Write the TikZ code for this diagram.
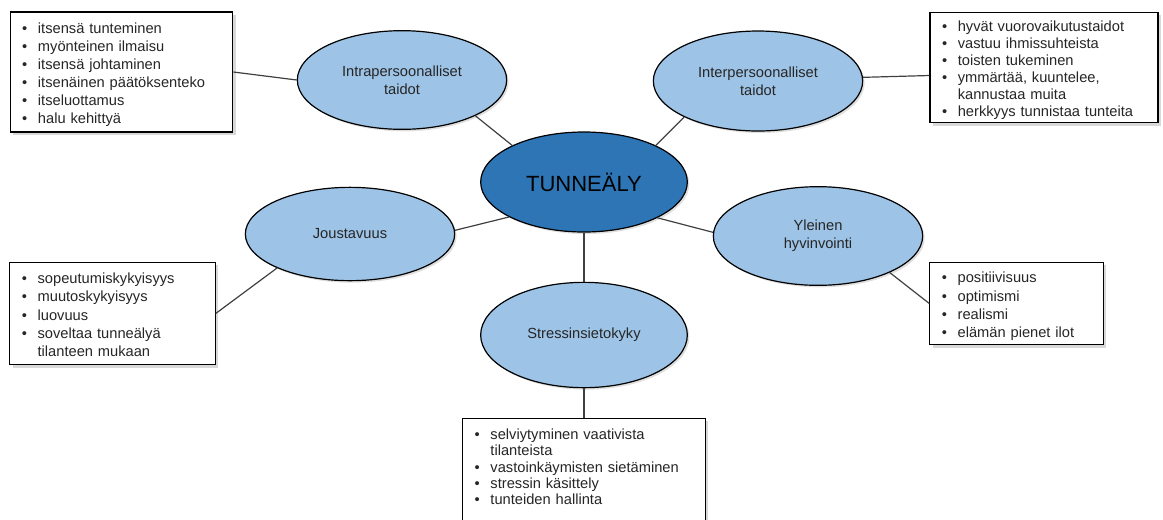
\documentclass[tikz,border=0pt]{standalone}
\usepackage{fontspec}
\setmainfont{Liberation Sans}
\usetikzlibrary{shapes.geometric,shadows}
\definecolor{lightblue}{HTML}{9DC3E6}
\definecolor{midblue}{HTML}{2E75B6}
\definecolor{linegray}{HTML}{404040}
\newcommand{\itemlist}[1]{\raisebox{-2.2pt}[\height][\depth]{\begin{tabular}{@{}l@{\hspace{8pt}}l@{}}#1\end{tabular}}}

\begin{document}
\begin{tikzpicture}[x=0.75pt, y=-0.75pt,
  topic/.style={ellipse, draw=black, line width=0.9pt, fill=lightblue, inner sep=0pt,
    minimum width=157pt, minimum height=74pt, align=center, text=black!85,
    font=\fontsize{11}{13.5}\selectfont,
    drop shadow={opacity=0.25, shadow xshift=1.5pt, shadow yshift=-1.5pt}},
  listbox/.style={rectangle, draw=black, line width=0.8pt, fill=white, inner xsep=9pt,
    inner ysep=0pt, text=black!85, font=\fontsize{11}{13.6}\selectfont,
    drop shadow={opacity=0.3, shadow xshift=2pt, shadow yshift=-2pt}},
  link/.style={draw=linegray, line width=0.9pt}]
  \useasboundingbox (0,0) rectangle (1163,519);
  \clip (0,0) rectangle (1163,519);

  \node[topic, fill=midblue, minimum width=155pt, minimum height=75pt, text=black,
    font=\fontsize{16.5}{19}\selectfont] (tunne) at (584,182) {TUNNEÄLY};
  \node[topic] (intra) at (402,80) {Intrapersoonalliset\\taidot};
  \node[topic, minimum height=75pt] (inter) at (758,81) {Interpersoonalliset\\taidot};
  \node[topic, minimum height=70pt] (jous) at (350,234) {Joustavuus};
  \node[topic] (yle) at (818,236) {Yleinen\\hyvinvointi};
  \node[topic, minimum width=155pt, minimum height=79pt] (stress) at (584,335) {Stressinsietokyky};

  \node[listbox, text width=149pt, minimum height=90pt] (intraBox) at (121.5,72) {\itemlist{
    \textbullet & itsensä tunteminen\\
    \textbullet & myönteinen ilmaisu\\
    \textbullet & itsensä johtaminen\\
    \textbullet & itsenäinen päätöksenteko\\
    \textbullet & itseluottamus\\
    \textbullet & halu kehittyä}};
  \node[listbox, text width=153pt, minimum height=83pt,
    font=\fontsize{11}{12.8}\selectfont] (interBox) at (1044,67.5) {\itemlist{
    \textbullet & hyvät vuorovaikutustaidot\\
    \textbullet & vastuu ihmissuhteista\\
    \textbullet & toisten tukeminen\\
    \textbullet & ymmärtää, kuuntelee,\\
                & kannustaa muita\\
    \textbullet & herkkyys tunnistaa tunteita}};
  \node[listbox, text width=136pt, minimum height=77pt] (jousBox) at (112.5,313.5) {\itemlist{
    \textbullet & sopeutumiskykyisyys\\
    \textbullet & muutoskykyisyys\\
    \textbullet & luovuus\\
    \textbullet & soveltaa tunneälyä\\
                & tilanteen mukaan}};
  \node[listbox, text width=112pt, minimum height=62pt] (yleBox) at (1016.5,303.5) {\itemlist{
    \textbullet & positiivisuus\\
    \textbullet & optimismi\\
    \textbullet & realismi\\
    \textbullet & elämän pienet ilot}};
  \node[listbox, anchor=north, text width=164pt, inner ysep=5pt,
    font=\fontsize{11}{12.2}\selectfont] (stressBox) at (584,418) {\itemlist{
    \textbullet & selviytyminen vaativista\\
                & tilanteista\\
    \textbullet & vastoinkäymisten sietäminen\\
    \textbullet & stressin käsittely\\
    \textbullet & tunteiden hallinta\\[24pt]}};

  \path[link]
  (intraBox.east) edge (intra.west)
  (intra.-26) edge (tunne.153)
  (inter.206) edge (tunne.27)
  (inter.2) edge (interBox.184)
  (jous.2) edge (tunne.205)
  (jous.205) edge (jousBox.east)
  (yle.178) edge (tunne.-26)
  (yle.-27) edge (yleBox.west)
  (tunne.south) edge (stress.north)
  (stress.south) edge (stressBox.north)
  ;
\end{tikzpicture}
\end{document}
